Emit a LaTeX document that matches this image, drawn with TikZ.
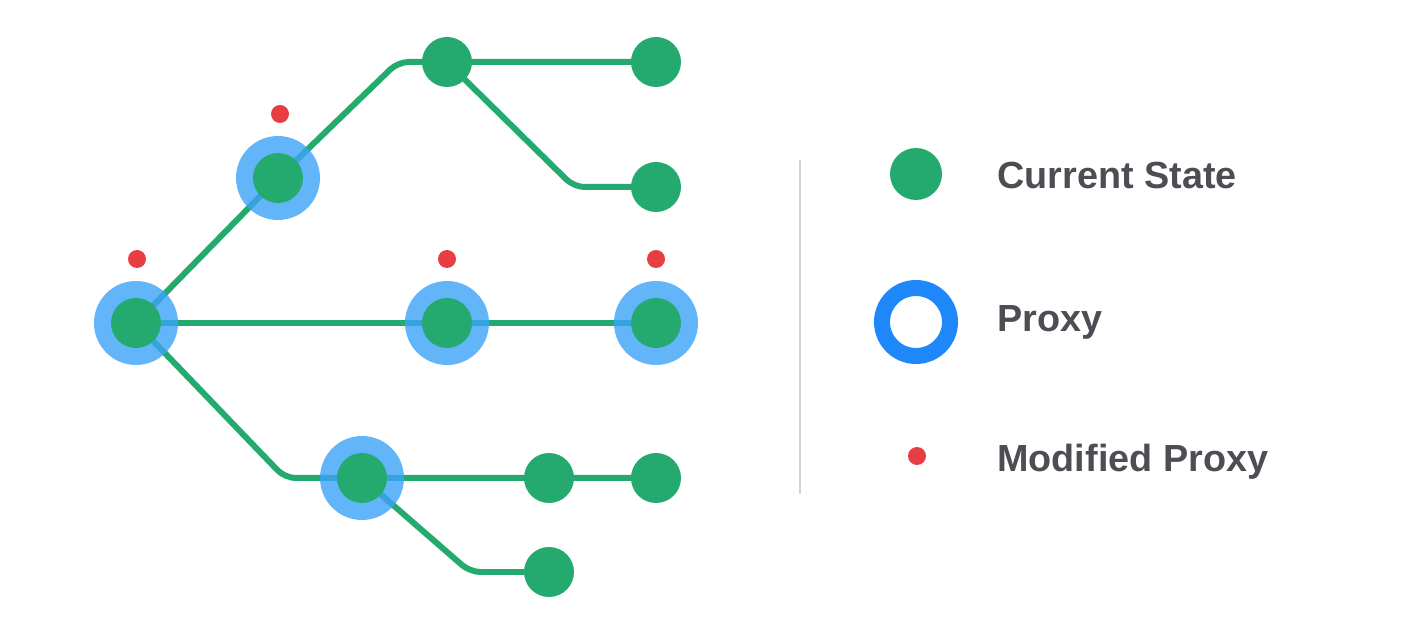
\documentclass[tikz,border=0pt]{standalone}
\usepackage{fontspec}
\setsansfont{Liberation Sans}
\pgfdeclarelayer{back}
\pgfsetlayers{back,main}

\begin{document}
\begin{tikzpicture}[x=0.02cm,y=-0.02cm,
	state node/.style={circle,fill=stategreen,inner sep=0pt,minimum size=1cm},
	proxy halo/.style={circle,fill=haloblue,fill opacity=0.8,inner sep=0pt,minimum size=1.68cm},
	mod dot/.style={circle,fill=modred,inner sep=0pt,minimum size=0.36cm},
	link/.style={draw=stategreen,line width=0.12cm,rounded corners=6pt},
	legend text/.style={anchor=base west,inner sep=0pt,text=legendgray,
		font=\sffamily\bfseries\fontsize{21.5}{26}\selectfont}]
	
	\definecolor{stategreen}{RGB}{36,170,110}
	\definecolor{haloblue}{RGB}{60,162,249}
	\definecolor{ringblue}{RGB}{30,136,250}
	\definecolor{modred}{RGB}{230,62,66}
	\definecolor{legendgray}{RGB}{77,77,84}
	
	\useasboundingbox (0,0) rectangle (1410,634);
	
	% proxies
	\node[proxy halo] (rh) at (136,323) {};
	\node[proxy halo] (ah) at (278,178) {};
	\node[proxy halo] (eh) at (447,323) {};
	\node[proxy halo] (fh) at (656,323) {};
	\node[proxy halo] (gh) at (362,478) {};
	
	% states
	\node[state node] (r) at (136,323) {};
	\node[state node] (a) at (278,178) {};
	\node[state node] (b) at (447,62) {};
	\node[state node] (c) at (656,62) {};
	\node[state node] (d) at (656,187) {};
	\node[state node] (e) at (447,323) {};
	\node[state node] (f) at (656,323) {};
	\node[state node] (g) at (362,478) {};
	\node[state node] (h) at (549,478) {};
	\node[state node] (i) at (656,478) {};
	\node[state node] (j) at (549,572) {};
	
	% bends
	\coordinate (ab) at (398,62);
	\coordinate (bd) at (574,187);
	\coordinate (rg) at (285,478);
	\coordinate (gj) at (470,572);
	
	% modified proxies
	\node[mod dot] (rm) at (137,259) {};
	\node[mod dot] (am) at (280,114) {};
	\node[mod dot] (em) at (447,259) {};
	\node[mod dot] (fm) at (656,259) {};
	
	\begin{pgfonlayer}{back}
	\path[link] (r.center) -- (a.center) -- (ab) -- (b.center) -- (c.center);
	\path[link] (b.center) -- (bd) -- (d.center);
	\path[link] (r.center) -- (e.center) -- (f.center);
	\path[link] (r.center) -- (rg) -- (g.center) -- (h.center) -- (i.center);
	\path[link] (g.center) -- (gj) -- (j.center);
	\end{pgfonlayer}
	
	% legend
	\draw[color={rgb,255:red,212;green,212;blue,214},line width=0.04cm] (800,160) -- (800,494);
	\node[state node,minimum size=1.04cm] (lstate) at (916,174) {};
	\node[circle,draw=ringblue,line width=0.32cm,inner sep=0pt,minimum size=1.36cm] (lproxy) at (916,322) {};
	\node[mod dot] (lmod) at (917,456) {};
	\node[legend text] (tstate) at (997,189) {Current State};
	\node[legend text] (tproxy) at (997,332) {Proxy};
	\node[legend text] (tmod) at (997,472) {Modified Proxy};
	
\end{tikzpicture}
\end{document}
